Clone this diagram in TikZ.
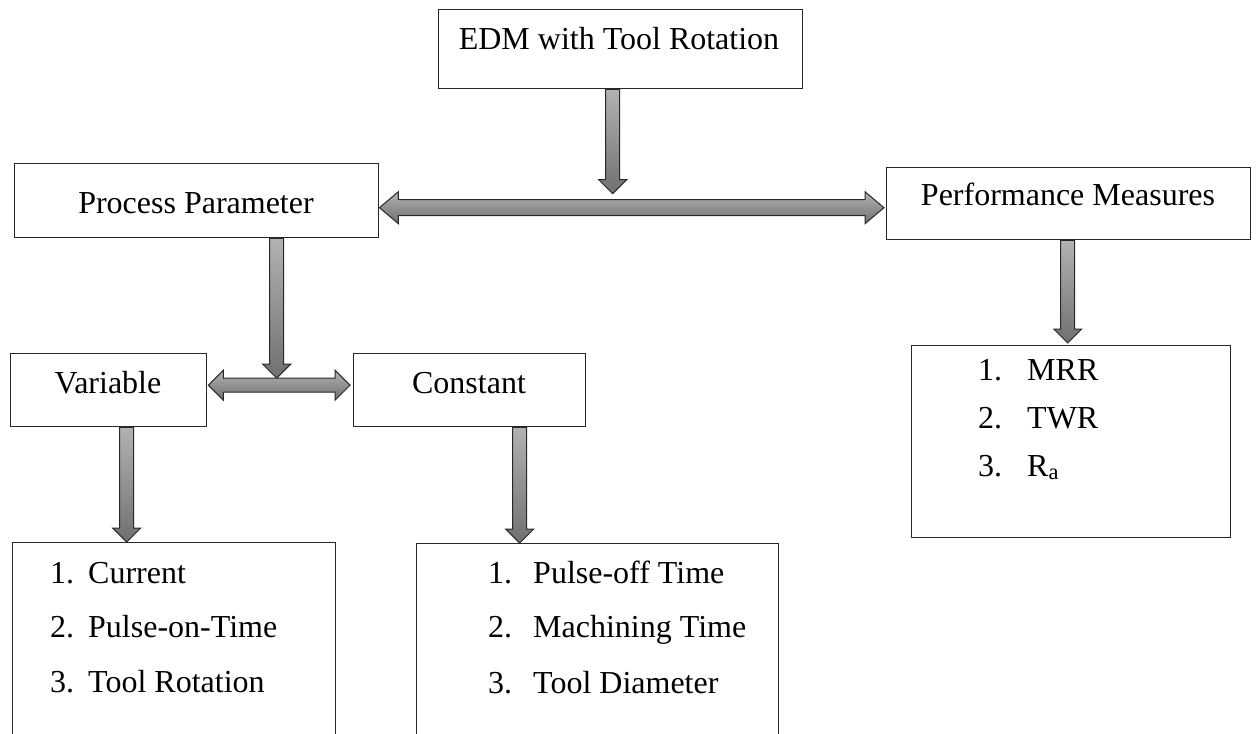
\documentclass[tikz,border=0pt]{standalone}
\usepackage{fontspec}
\setmainfont{Liberation Serif}
\usetikzlibrary{calc}
\definecolor{arlight}{RGB}{178,178,178}
\definecolor{ardark}{RGB}{112,112,112}
\definecolor{edge}{RGB}{40,40,40}
\tikzset{
  box/.style={draw=edge, line width=1.4pt, rectangle, inner sep=0pt, anchor=north west},
  lbl/.style={font=\fontsize{32}{38}\selectfont, inner sep=0pt},
  blockarrow/.style={draw=edge, line width=1pt, line join=miter, top color=arlight, bottom color=ardark},
}
\newcommand\blkdown[2]{%
  \path[blockarrow] let \p1=(#1), \p2=(#2) in
  (\x1-7pt,\y1) -- (\x1+7pt,\y1) -- (\x1+7pt,\y2+14pt) -- (\x1+14pt,\y2+14pt) --
  (\x1,\y2) -- (\x1-14pt,\y2+14pt) -- (\x1-7pt,\y2+14pt) -- cycle;}
% #1 left tip, #2 right tip, #3 shaft half, #4 head half, #5 head length
\newcommand\blkdouble[5]{%
  \path[blockarrow] let \p1=(#1), \p2=(#2) in
  (\x1,\y1) -- (\x1+#5pt,\y1+#4pt) -- (\x1+#5pt,\y1+#3pt) -- (\x2-#5pt,\y1+#3pt) --
  (\x2-#5pt,\y1+#4pt) -- (\x2,\y1) -- (\x2-#5pt,\y1-#4pt) -- (\x2-#5pt,\y1-#3pt) --
  (\x1+#5pt,\y1-#3pt) -- (\x1+#5pt,\y1-#4pt) -- cycle;}
\begin{document}
\begin{tikzpicture}[x=1pt,y=-1pt]
\useasboundingbox (0,0) rectangle (1257,733);
\clip (0,0) rectangle (1257,733);
\fill[white] (0,0) rectangle (1257,733);

% boxes
\node[box, minimum width=364pt, minimum height=79pt] (edm) at (438,9) {};
\node[box, minimum width=364pt, minimum height=74pt] (pp) at (14,163) {};
\node[box, minimum width=364pt, minimum height=72pt] (pm) at (886,167) {};
\node[box, minimum width=196pt, minimum height=73pt] (var) at (10,353) {};
\node[box, minimum width=232pt, minimum height=73pt] (con) at (353,353) {};
\node[box, minimum width=323pt, minimum height=250pt] (ll) at (12,542) {};
\node[box, minimum width=362pt, minimum height=250pt] (rl) at (416,543) {};
\node[box, minimum width=319pt, minimum height=192pt] (mrr) at (911,345) {};

% box titles
\node[lbl, anchor=base] (edmt) at (619,50) {EDM with Tool Rotation};
\node[lbl, anchor=base] (ppt) at (196,213) {Process Parameter};
\node[lbl, anchor=base] (pmt) at (1068,205) {Performance Measures};
\node[lbl, anchor=base] (vart) at (108,393) {Variable};
\node[lbl, anchor=base] (cont) at (469,393) {Constant};

% lists
\node[lbl, anchor=base west] (l1n) at (50,583) {1.};
\node[lbl, anchor=base west] (l1) at (88,583) {Current};
\node[lbl, anchor=base west] (l2n) at (50,637) {2.};
\node[lbl, anchor=base west] (l2) at (88,637) {Pulse-on-Time};
\node[lbl, anchor=base west] (l3n) at (50,692) {3.};
\node[lbl, anchor=base west] (l3) at (88,692) {Tool Rotation};

\node[lbl, anchor=base west] (r1n) at (488,583) {1.};
\node[lbl, anchor=base west] (r1) at (533,583) {Pulse-off Time};
\node[lbl, anchor=base west] (r2n) at (488,637) {2.};
\node[lbl, anchor=base west] (r2) at (533,637) {Machining Time};
\node[lbl, anchor=base west] (r3n) at (488,693) {3.};
\node[lbl, anchor=base west] (r3) at (533,693) {Tool Diameter};

\node[lbl, anchor=base west] (m1n) at (978,380) {1.};
\node[lbl, anchor=base west] (m1) at (1027,380) {MRR};
\node[lbl, anchor=base west] (m2n) at (978,428) {2.};
\node[lbl, anchor=base west] (m2) at (1027,428) {TWR};
\node[lbl, anchor=base west] (m3n) at (978,476) {3.};
\node[lbl, anchor=base west] (m3) at (1027,476) {R\textsubscript{a}};

% connector points
\coordinate (tl) at ($(pp.east)+(0,7)$);
\coordinate (tr) at ($(pm.west |- tl)+(-2,0)$);
\coordinate (es) at ($(edm.south)+(-8,0)$);
\coordinate (et) at ($(es |- tl)+(0,-14)$);
\coordinate (ps) at ($(pp.south)+(80,0)$);
\coordinate (sl) at ($(var.east)+(1,-5)$);
\coordinate (sr) at ($(con.west |- sl)+(-3,0)$);
\coordinate (pt) at ($(ps |- sl)+(0,-7)$);
\coordinate (ms) at ($(pm.south)+(-1,0)$);
\coordinate (mt) at ($(ms |- mrr.north)+(0,-2)$);
\coordinate (vs) at ($(var.south)+(18,0)$);
\coordinate (vt) at (vs |- ll.north);
\coordinate (cs) at ($(con.south)+(50,0)$);
\coordinate (ct) at (cs |- rl.north);

% block arrows
\blkdouble{tl}{tr}{8}{16}{19}
\blkdown{es}{et}
\blkdown{ps}{pt}
\blkdouble{sl}{sr}{7}{15}{15}
\blkdown{ms}{mt}
\blkdown{vs}{vt}
\blkdown{cs}{ct}
\end{tikzpicture}
\end{document}
